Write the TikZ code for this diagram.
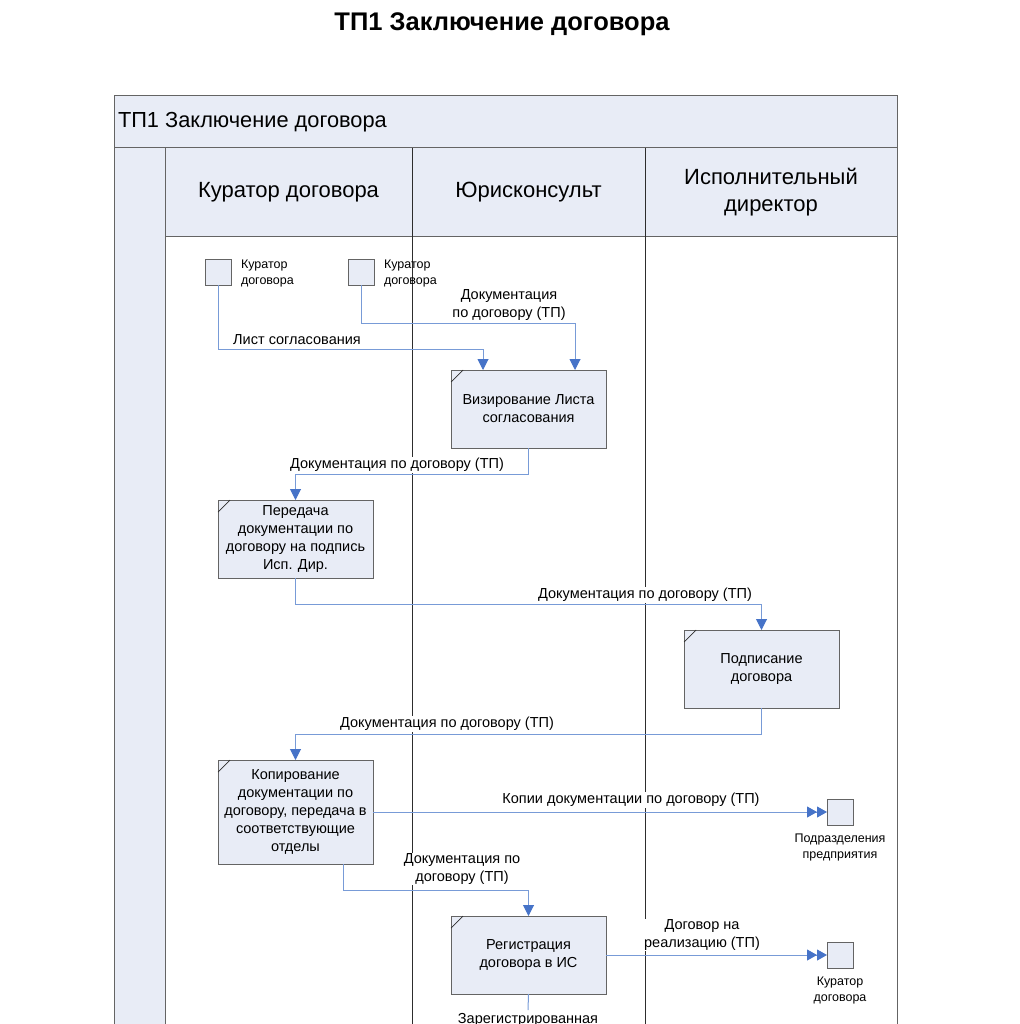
\documentclass[tikz,border=0pt]{standalone}
\usepackage{fontspec}
\setmainfont{Liberation Sans}
\usetikzlibrary{arrows.meta,calc}
\definecolor{boxfill}{RGB}{232,236,246}
\definecolor{lanegray}{RGB}{100,100,100}
\definecolor{lanedark}{RGB}{45,45,45}
\definecolor{connblue}{RGB}{120,155,215}
\definecolor{tipblue}{RGB}{70,115,200}
\tikzset{
  every node/.style={inner sep=0pt, outer sep=0pt},
  procbox/.style={draw=lanegray, fill=boxfill, line width=1pt, minimum width=155pt, minimum height=78pt, align=center, font=\fontsize{14.5}{18}\selectfont},
  objbox/.style={draw=lanegray, fill=boxfill, line width=1pt, minimum width=26pt, minimum height=26pt},
  objlabel/.style={align=left, font=\fontsize{12.5}{16}\selectfont},
  objlabelc/.style={align=center, font=\fontsize{12.5}{16}\selectfont},
  conn/.style={draw=connblue, line width=1pt, -{Triangle[length=11pt,width=11pt,color=tipblue]}},
  conndouble/.style={draw=connblue, line width=1pt, -{Triangle[length=10pt,width=11pt,color=tipblue]Triangle[length=10pt,width=11pt,color=tipblue]}},
  plainconn/.style={draw=connblue, line width=1pt},
  clabel/.style={fill=white, align=center, inner sep=1pt, font=\fontsize{14.5}{17.5}\selectfont},
  lanehead/.style={draw=lanegray, fill=boxfill, line width=1pt, align=center, font=\fontsize{22}{27}\selectfont},
  cornermark/.style={draw=lanedark, line width=0.7pt},
}
\begin{document}
\begin{tikzpicture}[x=1pt,y=-1pt]
\useasboundingbox (0,0) rectangle (1019,1024);
% title
\node[font=\bfseries\fontsize{25.5}{30}\selectfont] (title) at (502,24) {ТП1 Заключение договора};
% pool
\draw[draw=lanegray, fill=boxfill, line width=1pt] (114,96) rectangle (897,148);
\node[anchor=west, font=\fontsize{21.8}{26}\selectfont] (pooltitle) at (118,122) {ТП1 Заключение договора};
\draw[draw=lanegray, fill=boxfill, line width=1pt] (114,148) rectangle (165,1100);
\draw[draw=lanegray, line width=1pt] (165,148) rectangle (897,1100);
% lane headers
\node[lanehead, minimum width=247pt, minimum height=88pt, anchor=north west] (lane1) at (165,148) {Куратор договора};
\node[lanehead, minimum width=233pt, minimum height=88pt, anchor=north west] (lane2) at (412,148) {Юрисконсульт};
\node[lanehead, minimum width=252pt, minimum height=88pt, anchor=north west] (lane3) at (645,148) {Исполнительный\\директор};
\draw[draw=lanedark, line width=0.9pt] (lane1.north east) -- (412,1100);
\draw[draw=lanedark, line width=0.9pt] (lane2.north east) -- (645,1100);
% object boxes top
\node[objbox, anchor=north west] (objA) at (205,259) {};
\node[objlabel, anchor=north west] (objAl) at (241,260) {Куратор\\договора};
\node[objbox, anchor=north west] (objB) at (348,259) {};
\node[objlabel, anchor=north west] (objBl) at (384,260) {Куратор\\договора};
% process boxes
\node[procbox, anchor=north west] (visA) at (451,370) {Визирование Листа\\согласования};
\node[procbox, anchor=north west] (peredB) at (218,500) {Передача\\документации по\\договору на подпись\\Исп. Дир.};
\node[procbox, anchor=north west] (podpC) at (684,630) {Подписание\\договора};
\node[procbox, anchor=north west, minimum height=104pt] (kopD) at (218,760) {Копирование\\документации по\\договору, передача в\\соответствующие\\отделы};
\node[procbox, anchor=north west] (regF) at (451,916) {Регистрация\\договора в ИС};
% corner marks
\foreach \b in {visA,peredB,podpC,kopD,regF}{
  \draw[cornermark] ([yshift=-12pt]\b.north west) -- ([xshift=12pt]\b.north west);
}
% object boxes right
\node[objbox, anchor=north west] (objE) at (827,799) {};
\node[objlabelc, anchor=north] (objEl) at (840,834) {Подразделения\\предприятия};
\node[objbox, anchor=north west] (objG) at (827,942) {};
\node[objlabelc, anchor=north] (objGl) at (840,977) {Куратор\\договора};
% connectors
\draw[conn] (objA.south) -- ++(0,64) -| ([xshift=32pt]visA.north west);
\draw[conn] (objB.south) -- ++(0,38) -| ([xshift=124pt]visA.north west);
\draw[conn] (visA.south) -- ++(0,26) -| (peredB.north);
\draw[conn] (peredB.south) -- ++(0,26) -| (podpC.north);
\draw[conn] (podpC.south) -- ++(0,26) -| (kopD.north);
\draw[conndouble] (kopD.east) -- (objE.west);
\draw[conn] ([xshift=125pt]kopD.south west) -- ++(0,26) -| (regF.north);
\draw[conndouble] (regF.east) -- (objG.west);
\coordinate (regdown) at (528,1010);
\draw[plainconn] (regF.south) -- (regdown);
% connector labels
\node[clabel, fill=none] (lab1) at (297,340) {Лист согласования};
\node[clabel] (lab2) at (509,305) {Документация\\по договору (ТП)};
\node[clabel] (lab3) at (397,465) {Документация по договору (ТП)};
\node[clabel] (lab4) at (645,595) {Документация по договору (ТП)};
\node[clabel] (lab5) at (447,724) {Документация по договору (ТП)};
\node[clabel] (lab6) at (631,800) {Копии документации по договору (ТП)};
\node[clabel] (lab7) at (462,869) {Документация по\\договору (ТП)};
\node[clabel] (lab8) at (702,935) {Договор на\\реализацию (ТП)};
\node[clabel, anchor=north] (lab9) at (528,1012) {Зарегистрированная};
\end{tikzpicture}
\end{document}
